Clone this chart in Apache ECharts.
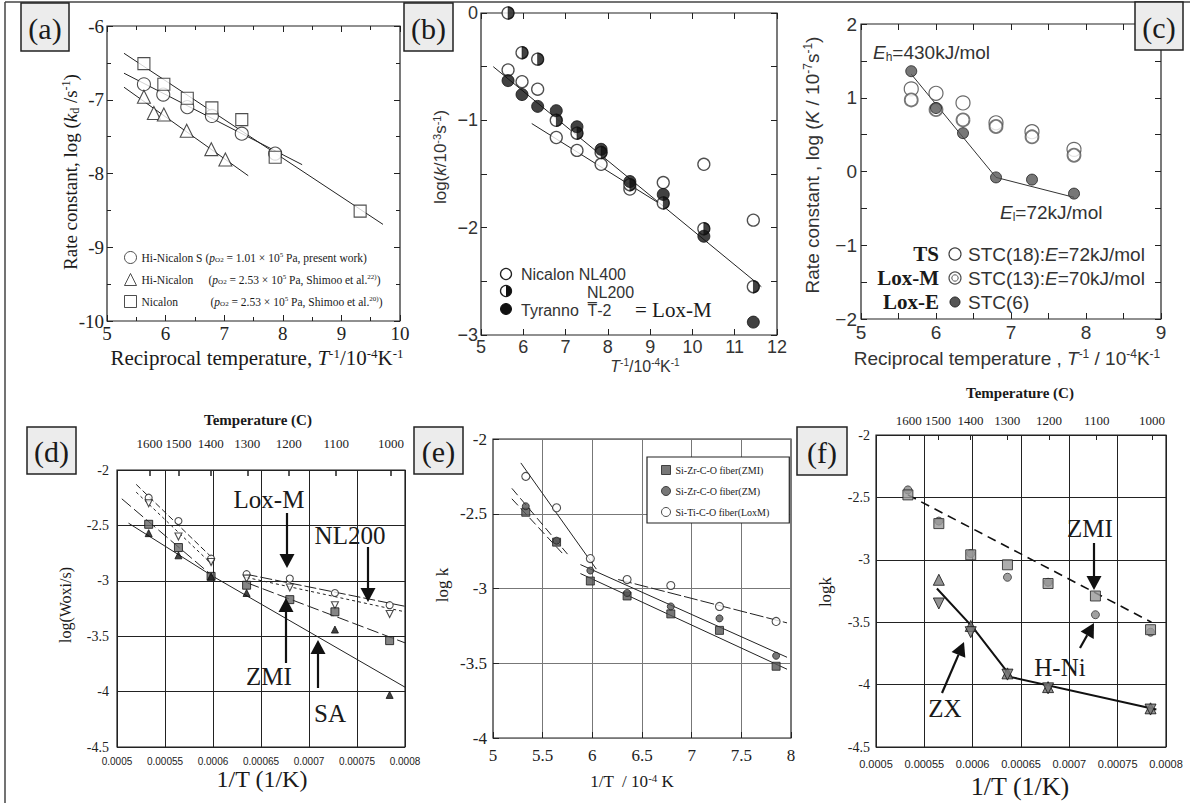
<!DOCTYPE html>
<html><head><meta charset="utf-8">
<script src="https://cdn.jsdelivr.net/npm/echarts@6/dist/echarts.min.js"></script>
<style>html,body{margin:0;padding:0;background:#fff}#c{width:1190px;height:803px}</style>
</head><body><div id="c"></div>
<script>
// ---------- DATA ----------
// (a) log(kd/s^-1) vs T^-1/10^-4 K^-1
const aXS = [5.63, 5.96, 6.37, 6.79, 7.30, 7.87];
const aHiNicalonS = [-6.79, -6.93, -7.10, -7.22, -7.46, -7.73];
const aXT = [5.63, 5.80, 5.97, 6.36, 6.78, 7.02];
const aHiNicalon = [-6.96, -7.18, -7.20, -7.42, -7.67, -7.81];
const aXN = [5.63, 5.97, 6.37, 6.79, 7.30, 7.87, 9.32];
const aNicalon = [-6.51, -6.79, -6.98, -7.11, -7.27, -7.78, -8.51];
const aFitSX = [5.29, 8.33], aFitSY = [-6.64, -7.88];
const aFitTX = [5.29, 7.41], aFitTY = [-6.83, -8.03];
const aFitNX = [5.29, 9.71], aFitNY = [-6.37, -8.69];
const aLegendNames = ['Hi-Nicalon S', 'Hi-Nicalon', 'Nicalon'];
const aLegendP = ['1.01', '2.53', '2.53'];
const aLegendSrc = ['present work', 'Shimoo et al.', 'Shimoo et al.'];
const aLegendRef = ['', '22)', '20)'];

// (b) log(k/10^-3 s^-1)
const bX = [5.64, 5.97, 6.34, 6.78, 7.27, 7.84, 8.52, 9.31, 10.27, 11.44];
const bNL400 = [-0.53, -0.64, -0.71, -1.16, -1.28, -1.41, -1.64, -1.58, -1.41, -1.93];
const bNL200 = [0.0, -0.37, -0.43, -1.00, -1.12, -1.30, -1.60, -1.77, -2.01, -2.55];
const bTyranno = [-0.63, -0.76, -0.87, -0.91, -1.06, -1.27, -1.57, -1.69, -2.08, -2.88];
const bFit1X = [5.29, 11.63], bFit1Y = [-0.50, -2.55];
const bFit2X = [6.20, 9.20], bFit2Y = [-1.03, -1.77];

// (c) log(K/10^-7 s^-1)
const cX = [5.67, 6.00, 6.36, 6.80, 7.28, 7.84];
const cTS = [1.12, 1.06, 0.93, 0.66, 0.54, 0.30];
const cLoxM = [0.97, 0.84, 0.70, 0.61, 0.47, 0.22];
const cLoxE = [1.36, 0.86, 0.52, -0.08, -0.11, -0.30];
const cFitX = [5.67, 6.80, 7.84], cFitY = [1.32, -0.08, -0.35];

// (d) log(Woxi/s) vs 1/T
const dX = [0.000533, 0.000564, 0.000598, 0.000635, 0.000680, 0.000727, 0.000784];
const dLoxM = [-2.25, -2.46, -2.80, -2.94, -2.98, -3.11, -3.22];
const dNL200 = [-2.30, -2.60, -2.83, -2.98, -3.06, -3.22, -3.30];
const dZMI = [-2.49, -2.70, -2.96, -3.04, -3.17, -3.28, -3.54];
const dXSA = [0.000533, 0.000564, 0.000598, 0.000635, 0.000727, 0.000784];
const dSA = [-2.57, -2.77, -2.96, -3.11, -3.44, -4.03];
const dLoxM1X = [0.000520, 0.000600], dLoxM1Y = [-2.13, -2.80];
const dLoxM2X = [0.000634, 0.000800], dLoxM2Y = [-2.94, -3.23];
const dNL1X = [0.000520, 0.000600], dNL1Y = [-2.20, -2.86];
const dNL2X = [0.000635, 0.000800], dNL2Y = [-2.97, -3.28];
const dZMI1X = [0.000505, 0.000600], dZMI1Y = [-2.26, -2.96];
const dZMI2X = [0.000636, 0.000800], dZMI2Y = [-3.02, -3.56];
const dSAFitX = [0.000512, 0.000600, 0.000800], dSAFitY = [-2.48, -2.96, -3.96];
const tempC = [1600, 1500, 1400, 1300, 1200, 1100, 1000];

// (e) log k vs 1/T / 10^-4 K
const eX = [5.33, 5.64, 5.98, 6.35, 6.79, 7.28, 7.85];
const eZMI = [-2.49, -2.69, -2.95, -3.05, -3.17, -3.28, -3.52];
const eZM = [-2.45, -2.68, -2.88, -3.03, -3.12, -3.20, -3.45];
const eLoxM = [-2.25, -2.46, -2.80, -2.94, -2.98, -3.12, -3.22];
const eLox1X = [5.28, 6.04], eLox1Y = [-2.16, -2.87];
const eLox2X = [6.26, 7.96], eLox2Y = [-2.94, -3.23];
const eZM1X = [5.19, 5.75], eZM1Y = [-2.33, -2.77];
const eZM2X = [5.88, 7.96], eZM2Y = [-2.84, -3.46];
const eZMI1X = [5.19, 5.72], eZMI1Y = [-2.40, -2.78];
const eZMI2X = [5.88, 7.96], eZMI2Y = [-2.90, -3.54];
const eNames = ['Si-Zr-C-O fiber(ZMI)', 'Si-Zr-C-O fiber(ZM)', 'Si-Ti-C-O fiber(LoxM)'];

// (f) logk vs 1/T
const fX = [0.000533, 0.000565, 0.000598, 0.000636, 0.000678, 0.000727, 0.000784];
const fZMI = [-2.48, -2.71, -2.96, -3.04, -3.19, -3.29, -3.56];
const fHNi = [-2.44, -2.69, -2.95, -3.14, -3.18, -3.44, -3.58];
const fXZX = [0.000565, 0.000598, 0.000636, 0.000678, 0.000784];
const fZXup = [-3.16, -3.53, -3.91, -4.02, -4.19];
const fZXdown = [-3.35, -3.58, -3.92, -4.03, -4.20];
const fZMIFitX = [0.000533, 0.000785], fZMIFitY = [-2.48, -3.50];
const fZXFitX = [0.000563, 0.000600, 0.000640, 0.000790], fZXFitY = [-3.23, -3.54, -3.94, -4.20];

// ---------- STYLE HELPERS ----------
const SERIF = "'Liberation Serif','Times New Roman',serif";
const SANS = "'Liberation Sans',Arial,sans-serif";
const INK = '#1a1a1a';
const pts = (xs, ys) => xs.map((x, i) => [x, ys[i]]);
const minus = v => (v < 0 ? '\u2212' + (-v) : String(v));

function rt(size, family, color, noFill) {
  color = color || INK;
  const lh = Math.round(size * 1.08), ss = Math.round(size * 0.62);
  const mk = o => { const r = Object.assign({fontFamily: family, color: color}, o); if (!noFill) r.fill = color; return r; };
  return {
    t: mk({fontSize: size, lineHeight: lh}),
    i: mk({fontSize: size, lineHeight: lh, fontStyle: 'italic'}),
    b: mk({fontSize: size, lineHeight: lh, fontWeight: 'bold'}),
    u: mk({fontSize: ss, verticalAlign: 'top', lineHeight: ss + 1}),
    s: mk({fontSize: ss, verticalAlign: 'bottom', lineHeight: ss + 1})
  };
}
function gtext(x, y, text, size, family, o) {
  o = o || {};
  return {
    type: 'text', x: x, y: y, rotation: o.rot || 0, silent: true, z: 100,
    style: {
      text: text, rich: rt(size, family, o.color), fontSize: size, fontFamily: family,
      fontWeight: o.weight || 'normal', fill: o.color || INK,
      align: o.align || 'center', textAlign: o.align || 'center',
      verticalAlign: 'middle', textVerticalAlign: 'middle'
    }
  };
}
function arrow(x1, y1, x2, y2) {
  const hw = 7.5, hl = 14;
  const dx = x2 - x1, dy = y2 - y1, L = Math.hypot(dx, dy), ux = dx / L, uy = dy / L;
  const bx = x2 - ux * hl, by = y2 - uy * hl;
  return [
    {type: 'line', silent: true, z: 100, shape: {x1: x1, y1: y1, x2: bx, y2: by}, style: {stroke: '#111', lineWidth: 2.2}},
    {type: 'polygon', silent: true, z: 100, shape: {points: [[x2, y2], [bx - uy * hw, by + ux * hw], [bx + uy * hw, by - ux * hw]]}, style: {fill: '#111'}}
  ];
}
function labelBox(x, y, w, h, t) {
  return [
    {type: 'rect', silent: true, z: 100, shape: {x: x, y: y, width: w, height: h}, style: {fill: '#ececec', stroke: '#222', lineWidth: 1.5}},
    gtext(x + w / 2, y + h / 2 + 1, '{t|' + t + '}', 30, SERIF)
  ];
}

// ---------- AXES ----------
function xAx(gi, min, max, interval, o) {
  o = o || {};
  return {
    gridIndex: gi, type: 'value', min: min, max: max, interval: interval, position: o.pos || 'bottom',
    axisLine: {show: false, onZero: false},
    axisTick: Object.assign({show: true, inside: true, length: o.tl || 6, lineStyle: {color: '#222'}}, o.tick || {}),
    minorTick: {show: !!o.minor, splitNumber: 2, length: o.ml || 4, lineStyle: {color: '#222'}},
    axisLabel: Object.assign({show: o.label !== false, fontFamily: o.ff || SERIF, fontSize: o.fs || 18, color: o.lc || '#222', margin: o.margin || 4, formatter: o.fmt}, o.al || {}),
    splitLine: {show: !!o.split, lineStyle: {color: o.sc || '#222', width: 1}}
  };
}
function yAx(gi, min, max, interval, o) {
  const a = xAx(gi, min, max, interval, o);
  a.position = o && o.pos || 'left';
  return a;
}
const tempInv = tempC.map(t => 1 / (t + 273));
const tempFmt = v => String(Math.round(1 / v - 273));
const smallFmt = v => String(+v.toFixed(5));

const grids = [
  {left: 107, top: 26, width: 293, height: 295},
  {left: 481, top: 13, width: 296, height: 322},
  {left: 861, top: 24, width: 300, height: 295},
  {left: 117, top: 470, width: 288, height: 277},
  {left: 493, top: 439, width: 298, height: 299},
  {left: 876, top: 435, width: 290, height: 312}
].map(g => Object.assign({show: true, borderColor: '#222', borderWidth: 1.2, backgroundColor: 'transparent', containLabel: false}, g));

const xAxes = [
  xAx(0, 5, 10, 1, {minor: true, fs: 19, margin: 3}),                                   // 0 a bottom
  xAx(0, 5, 10, 1, {minor: true, pos: 'top', label: false}),                             // 1 a top
  xAx(1, 5, 12, 1, {ff: SANS, fs: 18, lc: '#333', margin: 3}),                           // 2 b bottom
  xAx(1, 5, 12, 1, {pos: 'top', label: false}),                                          // 3 b top
  xAx(2, 5, 9, 1, {minor: true, ml: 6, ff: SANS, fs: 19, lc: '#333', margin: 4}),        // 4 c bottom
  xAx(2, 5, 9, 1, {minor: true, ml: 6, pos: 'top', label: false}),                       // 5 c top
  xAx(3, 0.0005, 0.0008, 0.00005, {ff: SANS, fs: 10, margin: 9, fmt: smallFmt, split: true, tl: 0}), // 6 d bottom
  {gridIndex: 3, type: 'value', position: 'top', min: 0.0005, max: 0.0008,             // 7 d top (temperature)
    axisLine: {show: false, onZero: false}, splitLine: {show: false},
    axisTick: {show: true, inside: true, length: 6, customValues: tempInv, lineStyle: {color: '#222', width: 1.5}},
    axisLabel: {show: true, customValues: tempInv, formatter: tempFmt, fontFamily: SERIF, fontSize: 13, color: '#222', margin: 20}},
  xAx(4, 5, 8, 0.5, {fs: 17, margin: 9, split: true, sc: '#777', tl: 0}),               // 8 e bottom
  xAx(5, 0.0005, 0.0008, 0.00005, {ff: SANS, fs: 11, margin: 11, fmt: smallFmt, split: true, tl: 0}), // 9 f bottom
  {gridIndex: 5, type: 'value', position: 'top', min: 0.0005, max: 0.0008,             // 10 f top (temperature)
    axisLine: {show: false, onZero: false}, splitLine: {show: false},
    axisTick: {show: true, inside: true, length: 5, customValues: tempInv, lineStyle: {color: '#222'}},
    axisLabel: {show: true, customValues: tempInv, formatter: tempFmt, fontFamily: SERIF, fontSize: 13, color: '#222', margin: 8}}
];
const yAxes = [
  yAx(0, -10, -6, 1, {minor: true, fs: 19, margin: 3}),                                  // 0 a left
  yAx(0, -10, -6, 1, {minor: true, pos: 'right', label: false}),                          // 1 a right
  yAx(1, -3, 0, 1, {minor: true, ml: 6, ff: SANS, fs: 18, lc: '#333', margin: 3, fmt: minus}), // 2 b left
  yAx(1, -3, 0, 1, {minor: true, ml: 6, pos: 'right', label: false}),                     // 3 b right
  yAx(2, -2, 2, 1, {minor: true, ml: 6, ff: SANS, fs: 19, lc: '#333', margin: 4, fmt: minus}), // 4 c left
  yAx(2, -2, 2, 1, {minor: true, ml: 6, pos: 'right', label: false}),                     // 5 c right
  yAx(3, -4.5, -2, 0.5, {fs: 14, margin: 8, split: true, tl: 0}),                         // 6 d
  yAx(4, -4, -2, 0.5, {fs: 17, margin: 6, split: true, sc: '#777', tl: 0}),               // 7 e
  yAx(5, -4.5, -2, 0.5, {fs: 14, margin: 6, split: true, tl: 0})                          // 8 f
];

// ---------- SERIES ----------
const L = (xi, yi, xs, ys, st) => ({type: 'line', xAxisIndex: xi, yAxisIndex: yi, data: pts(xs, ys), symbol: 'none', showSymbol: false, silent: true, z: 2, lineStyle: Object.assign({color: '#222', width: 1}, st || {})});
const S = (name, xi, yi, xs, ys, symbol, size, st, extra) => Object.assign({type: 'scatter', name: name, xAxisIndex: xi, yAxisIndex: yi, data: pts(xs, ys), symbol: symbol, symbolSize: size, silent: true, z: 3, itemStyle: st}, extra || {});
const OPEN = (c, w) => ({color: '#fff', borderColor: c || '#222', borderWidth: w || 1.1});
const FILL = (c, b) => ({color: c, borderColor: b || '#111', borderWidth: 1});
const DOWN = 'path://M0,0L20,0L10,17.3Z';
const HALF = 'path://M0,0A10,10 0 0 1 0,20Z';

const series = [
  // (a)
  L(0, 0, aFitSX, aFitSY), L(0, 0, aFitTX, aFitTY), L(0, 0, aFitNX, aFitNY),
  S('Hi-Nicalon S', 0, 0, aXS, aHiNicalonS, 'circle', 13, OPEN()),
  S('Hi-Nicalon', 0, 0, aXT, aHiNicalon, 'triangle', 13, OPEN()),
  S('Nicalon', 0, 0, aXN, aNicalon, 'rect', 12, OPEN()),
  // (b)
  L(2, 2, bFit1X, bFit1Y), L(2, 2, bFit2X, bFit2Y),
  S('Nicalon NL400', 2, 2, bX, bNL400, 'circle', 12, OPEN('#222', 1.3)),
  S('NL200', 2, 2, bX, bNL200, 'circle', 12, OPEN('#222', 1.3)),
  S('NL200 half', 2, 2, bX, bNL200, HALF, [6, 12], FILL('#111', '#111'), {symbolOffset: [3, 0], z: 4}),
  S('Tyranno T-2', 2, 2, bX, bTyranno, 'circle', 12, FILL('#111')),
  // (c)
  L(4, 4, cFitX, cFitY, {color: '#333'}),
  S('TS', 4, 4, cX, cTS, 'circle', 14, OPEN('#444', 1.2)),
  S('Lox-M', 4, 4, cX, cLoxM, 'circle', 13, OPEN('#555', 1.8)),
  S('Lox-E', 4, 4, cX, cLoxE, 'circle', 11, FILL('#555', '#222'), {z: 5}),
  // (d)
  L(6, 6, dLoxM1X, dLoxM1Y, {type: [6, 3]}), L(6, 6, dLoxM2X, dLoxM2Y, {type: [12, 3]}),
  L(6, 6, dNL1X, dNL1Y, {type: [3, 3]}), L(6, 6, dNL2X, dNL2Y, {type: [3, 3]}),
  L(6, 6, dZMI1X, dZMI1Y, {type: [12, 4]}), L(6, 6, dZMI2X, dZMI2Y, {type: [12, 4]}),
  L(6, 6, dSAFitX, dSAFitY),
  S('d Lox-M', 6, 6, dX, dLoxM, 'circle', 7, OPEN()),
  S('d NL200', 6, 6, dX, dNL200, DOWN, 7, OPEN()),
  S('d ZMI', 6, 6, dX, dZMI, 'rect', 8, FILL('#666')),
  S('d SA', 6, 6, dXSA, dSA, 'triangle', 7, FILL('#111')),
  // (e)
  L(8, 7, eLox1X, eLox1Y), L(8, 7, eLox2X, eLox2Y, {type: [14, 3]}),
  L(8, 7, eZM1X, eZM1Y, {type: [9, 4]}), L(8, 7, eZM2X, eZM2Y),
  L(8, 7, eZMI1X, eZMI1Y, {type: [9, 4]}), L(8, 7, eZMI2X, eZMI2Y),
  S(eNames[0], 8, 7, eX, eZMI, 'rect', 8, FILL('#555', '#222')),
  S(eNames[1], 8, 7, eX, eZM, 'circle', 7, FILL('#555', '#222')),
  S(eNames[2], 8, 7, eX, eLoxM, 'circle', 8, OPEN()),
  // (f)
  L(9, 8, fZMIFitX, fZMIFitY, {type: [9, 6], width: 1.6, color: '#111'}),
  L(9, 8, fZXFitX, fZXFitY, {width: 2, color: '#111'}),
  S('f H-Ni', 9, 8, fX, fHNi, 'circle', 8, FILL('#888', '#333')),
  S('f ZMI', 9, 8, fX, fZMI, 'rect', 10, FILL('#999', '#222')),
  S('f ZX up', 9, 8, fXZX, fZXup, 'triangle', 11, FILL('#777', '#111')),
  S('f ZX down', 9, 8, fXZX, fZXdown, DOWN, 11, FILL('#777', '#111'))
];

// ---------- LEGENDS ----------
const aWidths = [64, 67, 69];
const aFS = 11.5;
const aRich = Object.assign(rt(aFS, SERIF, INK, true), {
  n0: {width: aWidths[0], fontSize: aFS, fontFamily: SERIF, color: INK},
  n1: {width: aWidths[1], fontSize: aFS, fontFamily: SERIF, color: INK},
  n2: {width: aWidths[2], fontSize: aFS, fontFamily: SERIF, color: INK}
});
const legends = [
  {
    left: 119, top: 246, orient: 'vertical', itemGap: 9, itemWidth: 12, itemHeight: 12, selectedMode: false,
    data: [
      {name: aLegendNames[0], icon: 'circle'},
      {name: aLegendNames[1], icon: 'triangle'},
      {name: aLegendNames[2], icon: 'rect'}
    ],
    itemStyle: {color: '#fff', borderColor: '#222', borderWidth: 1},
    formatter: name => {
      const k = aLegendNames.indexOf(name);
      return '{n' + k + '|' + name + '}{t|(}{i|p}{s|O2}{t| = ' + aLegendP[k] + ' \u00d7 10}{u|5}{t| Pa, ' + aLegendSrc[k] + '}' + (aLegendRef[k] ? '{u|' + aLegendRef[k] + '}' : '') + '{t|)}';
    },
    textStyle: {fontFamily: SERIF, fontSize: aFS, color: INK, rich: aRich}
  },
  {
    left: 647, top: 457, orient: 'vertical', itemGap: 11, itemWidth: 9, itemHeight: 9, selectedMode: false,
    padding: [8, 20, 6, 14], borderColor: '#222', borderWidth: 1.2, backgroundColor: '#fff',
    data: [
      {name: eNames[0], icon: 'rect', itemStyle: {color: '#555', borderColor: '#222', borderWidth: 1}},
      {name: eNames[1], icon: 'circle', itemStyle: {color: '#555', borderColor: '#222', borderWidth: 1}},
      {name: eNames[2], icon: 'circle', itemStyle: {color: '#fff', borderColor: '#222', borderWidth: 1}}
    ],
    textStyle: {fontFamily: SERIF, fontSize: 10, color: INK}
  }
];

// ---------- ANNOTATIONS ----------
const graphics = [].concat(
  // frame
  [{type: 'line', silent: true, shape: {x1: 5, y1: 2, x2: 1190, y2: 2}, style: {stroke: '#444', lineWidth: 1.5}},
   {type: 'line', silent: true, shape: {x1: 5, y1: 2, x2: 5, y2: 803}, style: {stroke: '#444', lineWidth: 1.5}}],
  labelBox(21, 3, 48, 48, '(a)'), labelBox(404, 3, 49, 48, '(b)'), labelBox(1135, 2, 48, 48, '(c)'),
  labelBox(27, 427, 49, 47, '(d)'), labelBox(414, 427, 49, 47, '(e)'), labelBox(797, 427, 50, 48, '(f)'),
  // (a) titles
  [gtext(70, 172, '{t|Rate constant, log (}{i|k}{s|d}{t| /s}{u|-1}{t|)}', 19, SERIF, {rot: Math.PI / 2}),
   gtext(257, 358, '{t|Reciprocal temperature, }{i|T}{u|-1}{t|/10}{u|-4}{t|K}{u|-1}', 21, SERIF)],
  // (b) titles + legend
  [gtext(440, 157, '{t|log(}{i|k}{t|/10}{u|-3}{t|s}{u|-1}{t|)}', 17, SANS, {rot: Math.PI / 2, color: '#333'}),
   gtext(645, 366, '{i|T}{u|-1}{t|/10}{u|-4}{t|K}{u|-1}', 16, SANS, {color: '#333'}),
   {type: 'circle', silent: true, z: 100, shape: {cx: 506, cy: 274, r: 5.5}, style: {fill: '#fff', stroke: '#222', lineWidth: 1.3}},
   {type: 'circle', silent: true, z: 100, shape: {cx: 506, cy: 291, r: 5.5}, style: {fill: '#fff', stroke: '#222', lineWidth: 1.3}},
   {type: 'sector', silent: true, z: 101, shape: {cx: 506, cy: 291, r: 5.5, startAngle: -Math.PI / 2, endAngle: Math.PI / 2}, style: {fill: '#111'}},
   {type: 'circle', silent: true, z: 100, shape: {cx: 506, cy: 309, r: 5.5}, style: {fill: '#111', stroke: '#111', lineWidth: 1}},
   gtext(521, 274, '{t|Nicalon NL400}', 16, SANS, {align: 'left', color: '#333'}),
   gtext(587, 292, '{t|NL200}', 16, SANS, {align: 'left', color: '#333'}),
   gtext(521, 310, '{t|Tyranno  T\u0305-2}', 16, SANS, {align: 'left', color: '#333'}),
   gtext(635, 310, '{t|= Lox-M}', 21, SERIF, {align: 'left'})],
  // (c) titles + annotations + legend
  [gtext(812, 165, '{t|Rate constant , log (}{i|K}{t| / 10}{u|-7}{t|s}{u|-1}{t|)}', 19, SANS, {rot: Math.PI / 2, color: '#333'}),
   gtext(1007, 358, '{t|Reciprocal temperature , }{i|T}{u|-1}{t| / 10}{u|-4}{t|K}{u|-1}', 19, SANS, {color: '#333'}),
   gtext(873, 52, '{i|E}{s|h}{t|=430kJ/mol}', 19, SANS, {align: 'left', color: '#333'}),
   gtext(1000, 212, '{i|E}{s|l}{t|=72kJ/mol}', 19, SANS, {align: 'left', color: '#333'}),
   gtext(939, 254, '{b|TS}', 21, SERIF, {align: 'right'}),
   gtext(939, 278, '{b|Lox-M}', 21, SERIF, {align: 'right'}),
   gtext(939, 302, '{b|Lox-E}', 21, SERIF, {align: 'right'}),
   {type: 'circle', silent: true, z: 100, shape: {cx: 955, cy: 254, r: 6}, style: {fill: '#fff', stroke: '#444', lineWidth: 1.2}},
   {type: 'circle', silent: true, z: 100, shape: {cx: 955, cy: 278, r: 6}, style: {fill: '#fff', stroke: '#555', lineWidth: 1.2}},
   {type: 'circle', silent: true, z: 101, shape: {cx: 955, cy: 278, r: 3.2}, style: {fill: '#fff', stroke: '#555', lineWidth: 1}},
   {type: 'circle', silent: true, z: 100, shape: {cx: 955, cy: 302, r: 5}, style: {fill: '#555', stroke: '#222', lineWidth: 1}},
   gtext(968, 254, '{t|STC(18):}{i|E}{t|=72kJ/mol}', 19, SANS, {align: 'left', color: '#333'}),
   gtext(968, 278, '{t|STC(13):}{i|E}{t|=70kJ/mol}', 19, SANS, {align: 'left', color: '#333'}),
   gtext(968, 302, '{t|STC(6)}', 19, SANS, {align: 'left', color: '#333'})],
  // (d)
  [gtext(258, 420, '{b|Temperature (C)}', 15, SERIF),
   gtext(65, 605, '{t|log(Woxi/s)}', 16, SERIF, {rot: Math.PI / 2}),
   gtext(262, 779, '{t|1/T (1/K)}', 24, SERIF),
   gtext(269, 499, '{t|Lox-M}', 25, SERIF), gtext(350, 535, '{t|NL200}', 25, SERIF),
   gtext(269, 676, '{t|ZMI}', 25, SERIF), gtext(330, 713, '{t|SA}', 25, SERIF)],
  arrow(287, 513, 287, 568), arrow(368, 547, 368, 602), arrow(286, 663, 286, 598), arrow(318, 688, 318, 640),
  // (e)
  [gtext(442, 585, '{t|log k}', 17, SERIF, {rot: Math.PI / 2}),
   gtext(632, 781, '{t|1/T  / 10}{u|-4}{t| K}', 17, SERIF)],
  // (f)
  [gtext(1020, 393, '{b|Temperature (C)}', 15, SERIF),
   gtext(825, 592, '{t|logk}', 17, SERIF, {rot: Math.PI / 2}),
   gtext(1020, 786, '{t|1/T (1/K)}', 26, SERIF),
   gtext(1090, 528, '{t|ZMI}', 25, SERIF), gtext(1060, 667, '{t|H-Ni}', 25, SERIF), gtext(945, 708, '{t|ZX}', 25, SERIF)],
  arrow(1094, 543, 1094, 590), arrow(1080, 648, 1094, 623), arrow(942, 693, 964, 642)
);

const chart = echarts.init(document.getElementById('c'), null, {renderer: 'svg', width: 1190, height: 803});
chart.setOption({
  animation: false,
  backgroundColor: '#fff',
  grid: grids,
  xAxis: xAxes,
  yAxis: yAxes,
  legend: legends,
  series: series,
  graphic: {elements: graphics}
});
</script>
</body></html>
